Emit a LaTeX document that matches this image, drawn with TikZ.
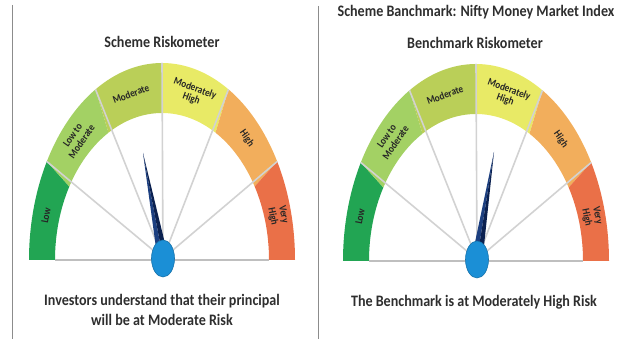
\documentclass[tikz,border=0pt]{standalone}
\usepackage{fontspec}
\setmainfont{Carlito}[FakeStretch=0.88]
\usetikzlibrary{calc}

\definecolor{lowgreen}{HTML}{22A553}
\definecolor{lowmodgreen}{HTML}{A3D164}
\definecolor{modgreen}{HTML}{BACF58}
\definecolor{modhighyellow}{HTML}{E8EA66}
\definecolor{highorange}{HTML}{F2AE5C}
\definecolor{veryhighred}{HTML}{EA7048}
\definecolor{spokegrey}{HTML}{D2D2D2}
\definecolor{headtext}{HTML}{2E2E2E}
\definecolor{labeltext}{HTML}{262626}
\definecolor{hubblue}{HTML}{1B8FD6}
\definecolor{needledark}{HTML}{0B2150}
\definecolor{needlelight}{HTML}{1C3F80}

\tikzset{
  spoke/.style={draw=spokegrey, line width=1.6pt},
  floorline/.style={draw=black!25, line width=1.2pt},
  divider/.style={draw=black!45, line width=1pt},
  bandlabel/.style={font=\bfseries\fontsize{10.5}{11}\selectfont, text=labeltext, align=center, inner sep=0pt},
  heading/.style={font=\bfseries\fontsize{16}{20}\selectfont, text=headtext, align=center, inner sep=0pt}
}

% one riskometer: #1 centre of the dial, #2 needle tip (relative to the centre)
\newcommand{\riskgauge}[2]{%
\begin{scope}[shift={#1}]
  \coordinate (hub) at (1,1.5);
  \coordinate (tip) at #2;

  \fill[lowgreen] (180:133 and 197) arc[start angle=180, end angle=150, x radius=133, y radius=197]
    -- (150:107 and 147) arc[start angle=150, end angle=180, x radius=107, y radius=147] -- cycle;
  \fill[lowmodgreen] (150:133 and 197) arc[start angle=150, end angle=120, x radius=133, y radius=197]
    -- (120:107 and 147) arc[start angle=120, end angle=150, x radius=107, y radius=147] -- cycle;
  \fill[modgreen] (120:133 and 197) arc[start angle=120, end angle=90, x radius=133, y radius=197]
    -- (90:107 and 147) arc[start angle=90, end angle=120, x radius=107, y radius=147] -- cycle;
  \fill[modhighyellow] (90:133 and 197) arc[start angle=90, end angle=60, x radius=133, y radius=197]
    -- (60:107 and 147) arc[start angle=60, end angle=90, x radius=107, y radius=147] -- cycle;
  \fill[highorange] (60:133 and 197) arc[start angle=60, end angle=30, x radius=133, y radius=197]
    -- (30:107 and 147) arc[start angle=30, end angle=60, x radius=107, y radius=147] -- cycle;
  \fill[veryhighred] (30:133 and 197) arc[start angle=30, end angle=0, x radius=133, y radius=197]
    -- (0:107 and 147) arc[start angle=0, end angle=30, x radius=107, y radius=147] -- cycle;

  \draw[floorline] (180:107 and 147) -- (0:107 and 147);
  \draw[spoke] (hub) -- (150:133 and 197);
  \draw[spoke] (hub) -- (120:133 and 197);
  \draw[spoke] (hub) -- (90:133 and 197);
  \draw[spoke] (hub) -- (60:133 and 197);
  \draw[spoke] (hub) -- (30:133 and 197);

  \node[bandlabel, rotate=79] (low) at (165:120 and 172) {Low};
  \node[bandlabel, rotate=55] (lowmod) at (135:120 and 172) {Low to\\Moderate};
  \node[bandlabel, rotate=20] (mod) at (105:120 and 172) {Moderate};
  \node[bandlabel, rotate=-20] (modhigh) at (75:120 and 172) {Moderately\\High};
  \node[bandlabel, rotate=-55] (high) at (45:120 and 172) {High};
  \node[bandlabel, rotate=-79] (veryhigh) at (15:120 and 172) {Very\\High};

  \fill[needlelight] (tip) -- ($(hub)!5.5pt!90:(tip)$) -- (hub) -- cycle;
  \fill[needledark] (tip) -- (hub) -- ($(hub)!5.5pt!-90:(tip)$) -- cycle;
  \filldraw[fill=hubblue, draw=hubblue!80!black, line width=0.6pt] (hub) ellipse[x radius=11.5, y radius=18.5];
\end{scope}}

\begin{document}
\begin{tikzpicture}[x=1pt, y=1pt]
\useasboundingbox (0,0) rectangle (627,339);

\draw[divider] (12,334) -- (12,0);
\draw[divider] (318,333) -- (318,0);

\riskgauge{(162,79)}{(-19,107)}
\riskgauge{(476,78)}{(18,109)}

\node[heading] (schemetitle) at (162,297) {Scheme Riskometer};
\node[heading] (benchname) at (476,327) {Scheme Banchmark: Nifty Money Market Index};
\node[heading] (benchtitle) at (475,296) {Benchmark Riskometer};
\node[heading] (schemerisk) at (162,29) {Investors understand that their principal\\will be at Moderate Risk};
\node[heading] (benchrisk) at (474,37) {The Benchmark is at Moderately High Risk};

\end{tikzpicture}
\end{document}
